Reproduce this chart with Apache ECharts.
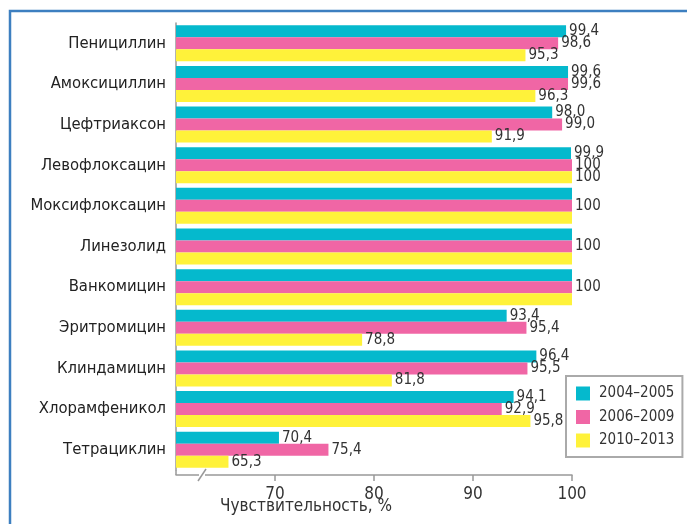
<!DOCTYPE html>
<html><head><meta charset="utf-8">
<script src="https://cdn.jsdelivr.net/npm/echarts@6/dist/echarts.min.js"></script>
<style>html,body{margin:0;padding:0;background:#fff}#c{width:687px;height:524px}</style>
</head><body><div id="c"></div>
<script>
const categories = ['Пенициллин','Амоксициллин','Цефтриаксон','Левофлоксацин','Моксифлоксацин','Линезолид','Ванкомицин','Эритромицин','Клиндамицин','Хлорамфеникол','Тетрациклин'];
const s2004 = [99.4, 99.6, 98.0, 99.9, 100, 100, 100, 93.4, 96.4, 94.1, 70.4];
const s2006 = [98.6, 99.6, 99.0, 100, 100, 100, 100, 95.4, 95.5, 92.9, 75.4];
const s2010 = [95.3, 96.3, 91.9, 100, 100, 100, 100, 78.8, 81.8, 95.8, 65.3];
const seriesNames = ['2004–2005','2006–2009','2010–2013'];
const tickValues = [70, 80, 90, 100];
const axisTitle = 'Чувствительность, %';

const FONT = "'Liberation Sans Narrow','Arial Narrow','DejaVu Sans Condensed',sans-serif";
const colors = ['#05B9CD', '#F066A5', '#FFF23A'];
const all = [s2004, s2006, s2010];
const fmt = v => v === 100 ? '100' : v.toFixed(1).replace('.', ',');

function buildData(arr, idx) {
  return arr.map((v, i) => {
    const same = all[0][i] === all[1][i] && all[1][i] === all[2][i];
    const item = { value: v };
    if (same && idx !== 1) item.label = { show: false };
    return item;
  });
}

const chart = echarts.init(document.getElementById('c'));
chart.setOption({
  animation: false,
  textStyle: { fontFamily: FONT },
  grid: { left: 176, right: 115, top: 23, bottom: 54, outerBoundsMode: 'none', containLabel: false },
  legend: {
    orient: 'vertical', left: 566, top: 376,
    data: seriesNames,
    itemWidth: 14, itemHeight: 14, itemGap: 8.5,
    padding: [10, 8, 9, 10],
    borderColor: '#aaaaaa', borderWidth: 2, backgroundColor: '#fff',
    icon: 'rect',
    textStyle: { fontFamily: FONT, fontSize: 15, color: '#333', padding: [0, 0, 0, 4] }
  },
  xAxis: {
    type: 'value', min: 60, max: 100, interval: 10, offset: 5,
    axisLine: { show: true, lineStyle: { color: '#999', width: 1.5 } },
    axisTick: { show: true, length: 6, lineStyle: { color: '#999', width: 1.5 }, customValues: tickValues },
    axisLabel: { fontFamily: FONT, fontSize: 17, color: '#333', margin: 11, customValues: tickValues },
    splitLine: { show: false },
    name: axisTitle, nameLocation: 'middle', nameGap: 23.5, nameMoveOverlap: false,
    nameTextStyle: { fontFamily: FONT, fontSize: 17, color: '#333', padding: [0, 136, 0, 0] }
  },
  yAxis: {
    type: 'category', data: categories, inverse: true,
    axisLine: { show: true, lineStyle: { color: '#999', width: 1.5 } },
    axisTick: { show: false },
    axisLabel: { fontFamily: FONT, fontSize: 16.5, color: '#222', margin: 10 }
  },
  series: all.map((arr, idx) => ({
    name: seriesNames[idx], type: 'bar',
    data: buildData(arr, idx),
    barWidth: 12, barGap: '0%',
    itemStyle: { color: colors[idx] },
    label: { show: true, position: 'right', distance: 3, fontFamily: FONT, fontSize: 15, color: '#333', formatter: p => fmt(p.value) }
  })),
  graphic: [
    { type: 'rect', shape: { x: 10, y: 11, width: 1000, height: 1000 }, style: { fill: 'none', stroke: '#3D7FC0', lineWidth: 2.5 }, silent: true, z: 100 },
    { type: 'line', shape: { x1: 176, y1: 470, x2: 176, y2: 475 }, style: { stroke: '#999', lineWidth: 1.5 }, z: 100 },
    { type: 'rect', shape: { x: 199, y: 472, width: 6, height: 6 }, style: { fill: '#fff' }, z: 100 },
    { type: 'line', shape: { x1: 198, y1: 481, x2: 206, y2: 469 }, style: { stroke: '#999', lineWidth: 1.5 }, z: 101 }
  ]
});
</script></body></html>
